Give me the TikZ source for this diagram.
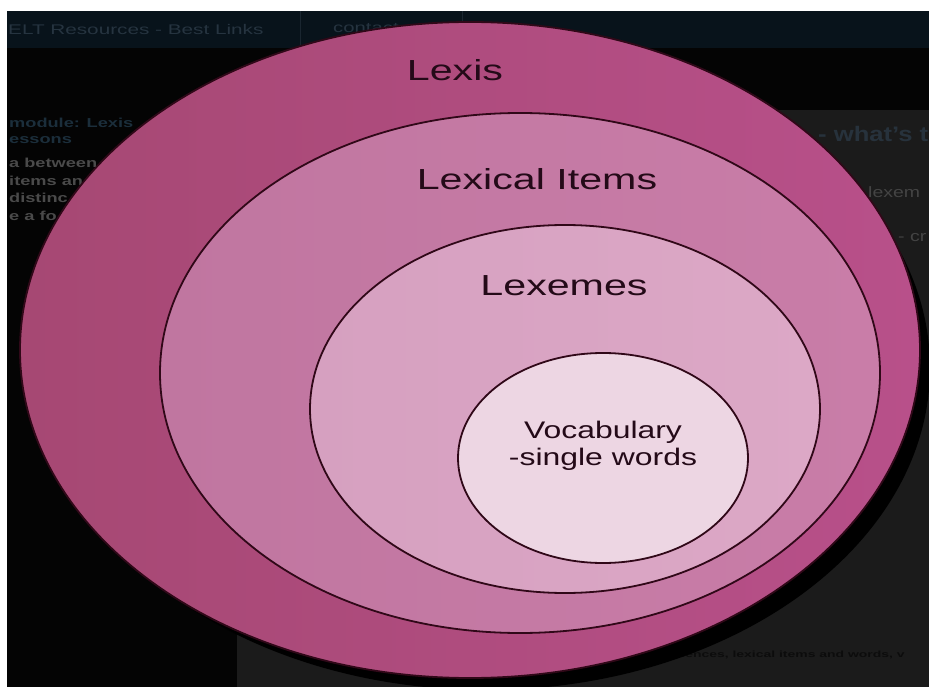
\documentclass[tikz,border=0pt]{standalone}
\usepackage{fontspec}
\setmainfont{Liberation Sans}
\definecolor{navy}{HTML}{08131B}
\definecolor{panel}{HTML}{1B1B1B}
\definecolor{bgblack}{HTML}{040404}
\definecolor{ringline}{HTML}{300818}
\definecolor{labeltext}{HTML}{240A18}
\definecolor{lexisL}{HTML}{A64873}
\definecolor{lexisR}{HTML}{B8508A}
\definecolor{itemsL}{HTML}{C076A0}
\definecolor{itemsR}{HTML}{C97DA8}
\definecolor{lexemesL}{HTML}{D6A0C0}
\definecolor{lexemesR}{HTML}{DCA8C6}
\definecolor{vocab}{HTML}{EDD6E3}
\definecolor{fbar}{HTML}{263440}
\definecolor{fblue}{HTML}{1B2E3B}
\definecolor{fgray}{HTML}{4A4A4A}
\definecolor{fgrayb}{HTML}{444444}
\definecolor{fwhat}{HTML}{27323C}
\definecolor{fbottom}{HTML}{0C0C0C}
\definecolor{sepline}{HTML}{1A2630}
\newcommand\stretchx[2][1.4]{\scalebox{#1}[1]{#2}}
\begin{document}
\begin{tikzpicture}[x=1pt,y=-1pt,
  ring/.style={draw=ringline, line width=1.8pt},
  biglabel/.style={text=labeltext, inner sep=0pt, font=\fontsize{29}{30}\selectfont},
  smalllabel/.style={text=labeltext, inner sep=0pt, align=center, font=\fontsize{24}{27}\selectfont},
  faint/.style={text=#1, inner sep=0pt, anchor=west, font=\fontsize{13}{14}\selectfont\bfseries},
]
\clip (0,0) rectangle (929,687);
% background screenshot
\fill[bgblack] (0,0) rectangle (929,687);
\fill[navy] (0,11) rectangle (929,48);
\fill[panel] (237,110) rectangle (929,687);
\draw[sepline, line width=0.8pt] (300,11) -- (300,48);
\draw[sepline, line width=0.8pt] (462,11) -- (462,48);
\fill[white] (0,0) rectangle (929,11);
\fill[white] (0,0) rectangle (7,687);
% faint background texts
\node[faint=fbar, font=\fontsize{14}{15}\selectfont] (t1) at (8,29) {\stretchx[1.48]{ELT Resources - Best Links}};
\node[faint=fbar, font=\fontsize{14}{15}\selectfont] (t2) at (333,28) {\stretchx[1.45]{contact}};
\node[faint=fblue] (t3) at (9,123) {\stretchx{module: Lexis}};
\node[faint=fblue] (t4) at (9,140) {\stretchx{essons}};
\node[faint=fgray] (t5) at (9,163) {\stretchx{a between}};
\node[faint=fgray] (t6) at (9,181) {\stretchx{items an}};
\node[faint=fgray] (t7) at (9,198) {\stretchx{distinc}};
\node[faint=fgray] (t8) at (9,216) {\stretchx{e a fo}};
\node[faint=fwhat, font=\fontsize{21}{23}\selectfont\bfseries] (t9) at (818,134) {\stretchx[1.22]{- what's t}};
\node[faint=fgrayb, font=\fontsize{15}{16}\selectfont] (t10) at (868,192) {\stretchx[1.3]{lexem}};
\node[faint=fgrayb, font=\fontsize{15}{16}\selectfont] (t11) at (898,238) {\stretchx[1.3]{- cr}};
\node[faint=fbottom, font=\fontsize{9}{10}\selectfont\bfseries] (t12) at (668,655) {\stretchx[1.55]{quences, lexical items and words, v}};
% shadow
\fill[black] (486,368) ellipse [x radius=444pt, y radius=322pt];
% nested ellipses
\shadedraw[ring, left color=lexisL, right color=lexisR] (470,350) ellipse [x radius=450pt, y radius=328pt];
\shadedraw[ring, left color=itemsL, right color=itemsR] (520,373) ellipse [x radius=360pt, y radius=260pt];
\shadedraw[ring, left color=lexemesL, right color=lexemesR] (565,409) ellipse [x radius=255pt, y radius=184pt];
\filldraw[ring, fill=vocab] (603,458) ellipse [x radius=145pt, y radius=105pt];
% labels
\node[biglabel] (lexis) at (455,70) {\stretchx[1.42]{Lexis}};
\node[biglabel] (items) at (537,179) {\stretchx[1.42]{Lexical Items}};
\node[biglabel] (lexemes) at (564,286) {\stretchx[1.42]{Lexemes}};
\node[smalllabel] (vocabtext) at (603,446) {\stretchx[1.33]{Vocabulary}\\\stretchx[1.33]{-single words}};
\end{tikzpicture}
\end{document}
